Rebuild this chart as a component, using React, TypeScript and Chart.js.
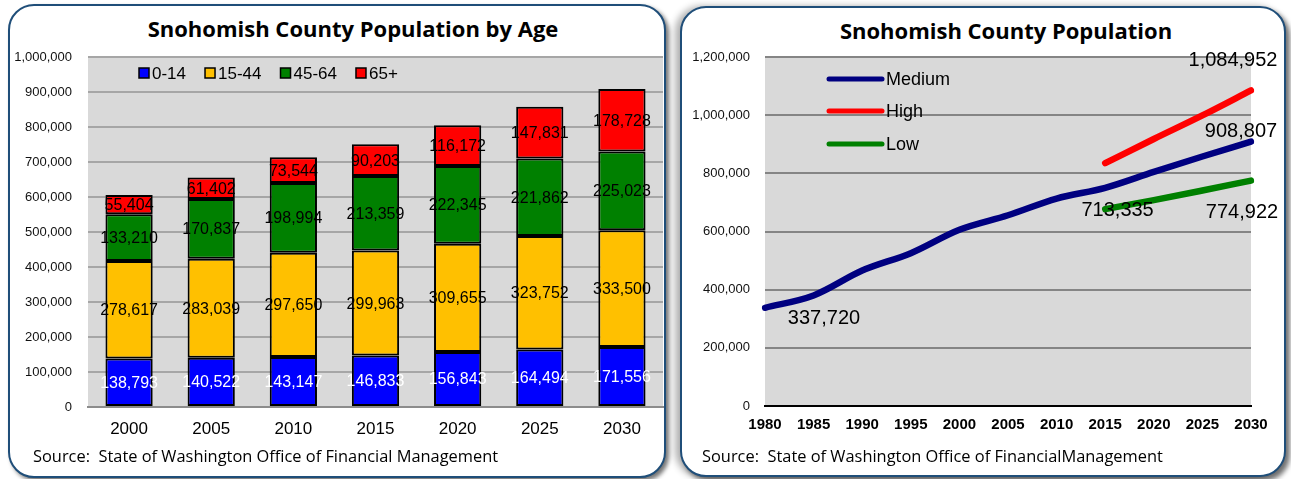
import React, { useEffect, useRef } from "react";
import { Chart, registerables } from "chart.js";

Chart.register(...registerables);

// ---------- Data: population by age ----------
const ageYears = ["2000", "2005", "2010", "2015", "2020", "2025", "2030"];
const ageSeriesNames = ["0-14", "15-44", "45-64", "65+"];
const age0to14 = [138793, 140522, 143147, 146833, 156843, 164494, 171556];
const age15to44 = [278617, 283039, 297650, 299963, 309655, 323752, 333500];
const age45to64 = [133210, 170837, 198994, 213359, 222345, 221862, 225023];
const age65plus = [55404, 61402, 73544, 90203, 116172, 147831, 178728];
const ageTicksMax = 1000000;
const ageTicksStep = 100000;

// ---------- Data: population projections ----------
const popYears = ["1980", "1985", "1990", "1995", "2000", "2005", "2010", "2015", "2020", "2025", "2030"];
const popSeriesNames = ["Medium", "High", "Low"];
const popMedium = [337720, 380000, 465642, 525600, 606024, 655800, 713335, 750358, 805015, 857939, 908807];
const popHigh = [null, null, null, null, null, null, null, 835000, 918000, 999000, 1084952];
const popLow = [null, null, null, null, null, null, null, 677000, 708000, 741000, 774922];
const popTicksMax = 1200000;
const popTicksStep = 200000;

const ARIAL = "'Liberation Sans', Arial, sans-serif";
const CALIBRI = "'Open Sans', Lato, sans-serif";

const fmt = (v: number) => Number(v).toLocaleString("en-US");

const plotBg = (color: string) => ({
  id: "plotBg",
  beforeDraw(chart: any) {
    const { ctx, chartArea } = chart;
    if (!chartArea) return;
    ctx.save();
    ctx.fillStyle = color;
    ctx.fillRect(chartArea.left, chartArea.top, chartArea.right - chartArea.left, chartArea.bottom - chartArea.top);
    ctx.restore();
  },
});

function AgeChart() {
  const ref = useRef<HTMLCanvasElement | null>(null);
  useEffect(() => {
    if (!ref.current) return;
    const colors = ["#0000ff", "#ffc000", "#008000", "#ff0000"];
    const labelColors = ["#ffffff", "#000000", "#000000", "#000000"];
    const series = [age0to14, age15to44, age45to64, age65plus];

    const barLabels = {
      id: "barLabels",
      afterDatasetsDraw(chart: any) {
        const ctx = chart.ctx;
        ctx.save();
        ctx.font = `16px ${ARIAL}`;
        ctx.textAlign = "center";
        ctx.textBaseline = "middle";
        chart.data.datasets.forEach((ds: any, di: number) => {
          const meta = chart.getDatasetMeta(di);
          meta.data.forEach((el: any, i: number) => {
            const p = el.getProps(["x", "y", "base"], true);
            ctx.fillStyle = labelColors[di];
            ctx.fillText(fmt(ds.data[i]), p.x, (p.y + p.base) / 2 + 1);
          });
        });
        ctx.restore();
      },
    };

    const innerLegend = {
      id: "innerLegend",
      afterDraw(chart: any) {
        const { ctx, chartArea } = chart;
        ctx.save();
        ctx.font = `17px ${ARIAL}`;
        ctx.textBaseline = "middle";
        ctx.textAlign = "left";
        let x = chartArea.left + 51;
        const y = chartArea.top + 16;
        chart.data.datasets.forEach((ds: any) => {
          ctx.fillStyle = ds.backgroundColor;
          ctx.fillRect(x, y - 5, 10, 10);
          ctx.strokeStyle = "#000";
          ctx.lineWidth = 1.5;
          ctx.strokeRect(x, y - 5, 10, 10);
          ctx.fillStyle = "#000";
          ctx.fillText(ds.label, x + 13, y + 1);
          x += 13 + ctx.measureText(ds.label).width + 19;
        });
        ctx.restore();
      },
    };

    const chart = new Chart(ref.current, {
      type: "bar",
      data: {
        labels: ageYears,
        datasets: series.map((d, i) => ({
          label: ageSeriesNames[i],
          data: d,
          backgroundColor: colors[i],
          borderColor: "#000000",
          borderWidth: 2,
          borderSkipped: false,
          barPercentage: 1,
          categoryPercentage: 0.575,
        })),
      },
      options: {
        animation: false,
        responsive: true,
        maintainAspectRatio: false,
        layout: { padding: { left: 0, right: 2, top: 17, bottom: 13 } },
        plugins: { legend: { display: false }, tooltip: { enabled: false }, title: { display: false } },
        scales: {
          x: {
            stacked: true,
            offset: true,
            grid: { display: false, drawTicks: false },
            border: { display: true, color: "#8c8c8c", width: 2 },
            ticks: { color: "#000", font: { family: ARIAL, size: 17 }, padding: 12 },
            afterFit: (s: any) => {
              s.height = 40;
            },
          },
          y: {
            stacked: true,
            min: 0,
            max: ageTicksMax,
            grid: { color: "#a6a6a6", lineWidth: 2, drawTicks: false },
            border: { display: false },
            ticks: {
              stepSize: ageTicksStep,
              color: "#111",
              font: { family: ARIAL, size: 13 },
              padding: 16,
              callback: (v: any) => fmt(v),
            },
            afterFit: (s: any) => {
              s.width = 78;
              s.paddingTop = 0;
              s.paddingBottom = 0;
            },
          },
        },
      } as any,
      plugins: [plotBg("#d9d9d9"), barLabels, innerLegend],
    });
    return () => chart.destroy();
  }, []);
  return (
    <div style={{ position: "absolute", left: 10, top: 40, width: 655, height: 420 }}>
      <canvas ref={ref} />
    </div>
  );
}

function PopChart() {
  const ref = useRef<HTMLCanvasElement | null>(null);
  useEffect(() => {
    if (!ref.current) return;
    const colors = ["#000080", "#ff0000", "#008000"];
    const series: any[] = [popMedium, popHigh, popLow];
    const pointLabels = [
      { ds: 0, i: 0, dx: 59, dy: 11 },
      { ds: 0, i: 6, dx: 61, dy: 12 },
      { ds: 1, i: 10, dx: -18, dy: -30 },
      { ds: 0, i: 10, dx: -10, dy: -10 },
      { ds: 2, i: 10, dx: -9, dy: 32 },
    ];

    const lineLabels = {
      id: "lineLabels",
      afterDatasetsDraw(chart: any) {
        const ctx = chart.ctx;
        ctx.save();
        ctx.font = `20px ${ARIAL}`;
        ctx.fillStyle = "#000";
        ctx.textAlign = "center";
        ctx.textBaseline = "middle";
        pointLabels.forEach((l) => {
          const el = chart.getDatasetMeta(l.ds).data[l.i];
          const v = chart.data.datasets[l.ds].data[l.i];
          ctx.fillText(fmt(v), el.x + l.dx, el.y + l.dy);
        });
        ctx.restore();
      },
    };

    const innerLegend = {
      id: "innerLegend",
      afterDraw(chart: any) {
        const { ctx, chartArea } = chart;
        ctx.save();
        ctx.font = `18px ${ARIAL}`;
        ctx.textBaseline = "middle";
        ctx.textAlign = "left";
        const x = chartArea.left + 62;
        const ys = [22, 54, 87];
        chart.data.datasets.forEach((ds: any, i: number) => {
          const y = chartArea.top + ys[i];
          ctx.strokeStyle = ds.borderColor;
          ctx.lineWidth = 5;
          ctx.lineCap = "round";
          ctx.beginPath();
          ctx.moveTo(x + 2, y);
          ctx.lineTo(x + 55, y);
          ctx.stroke();
          ctx.fillStyle = "#000";
          ctx.fillText(ds.label, x + 59, y + 1);
        });
        ctx.restore();
      },
    };

    const chart = new Chart(ref.current, {
      type: "line",
      data: {
        labels: popYears,
        datasets: series.map((d, i) => ({
          label: popSeriesNames[i],
          data: d,
          borderColor: colors[i],
          backgroundColor: colors[i],
          borderWidth: 6.5,
          borderCapStyle: "round",
          borderJoinStyle: "round",
          pointRadius: 0,
          fill: false,
          cubicInterpolationMode: "monotone",
          spanGaps: false,
        })),
      },
      options: {
        animation: false,
        responsive: true,
        maintainAspectRatio: false,
        layout: { padding: { left: 0, right: 33, top: 17, bottom: 16 } },
        plugins: { legend: { display: false }, tooltip: { enabled: false }, title: { display: false } },
        scales: {
          x: {
            offset: false,
            grid: { display: false, drawTicks: false },
            border: { display: true, color: "#000", width: 2 },
            ticks: { color: "#000", font: { family: ARIAL, size: 15, weight: "bold" }, padding: 10, maxRotation: 0, autoSkip: false },
            afterFit: (s: any) => {
              s.height = 38;
            },
          },
          y: {
            min: 0,
            max: popTicksMax,
            grid: { color: "#858585", lineWidth: 2, drawTicks: false },
            border: { display: false },
            ticks: {
              stepSize: popTicksStep,
              color: "#111",
              font: { family: ARIAL, size: 13 },
              padding: 15,
              callback: (v: any) => fmt(v),
            },
            afterFit: (s: any) => {
              s.width = 83;
              s.paddingTop = 0;
              s.paddingBottom = 0;
            },
          },
        },
      } as any,
      plugins: [plotBg("#d9d9d9"), lineLabels, innerLegend],
    });
    return () => chart.destroy();
  }, []);
  return (
    <div style={{ position: "absolute", left: 682, top: 40, width: 602, height: 420 }}>
      <canvas ref={ref} />
    </div>
  );
}

export default function App() {
  const panel: React.CSSProperties = {
    position: "absolute",
    boxSizing: "border-box",
    border: "2px solid #1f4e79",
    borderRadius: 26,
    background: "#ffffff",
  };
  const titleStyle: React.CSSProperties = {
    position: "absolute",
    fontFamily: CALIBRI,
    fontWeight: 700,
    fontSize: 22,
    lineHeight: "26px",
    color: "#000",
    textAlign: "center",
    whiteSpace: "nowrap",
  };
  const sourceStyle: React.CSSProperties = {
    position: "absolute",
    fontFamily: CALIBRI,
    fontSize: 16.4,
    lineHeight: "18px",
    color: "#000",
    whiteSpace: "pre",
  };
  return (
    <div style={{ position: "absolute", left: 0, top: 0, width: 1291, height: 479, overflow: "hidden", background: "#fff" }}>
      <div style={{ ...panel, left: 8, top: 4, width: 658, height: 474, boxShadow: "3px 3px 4px rgba(0,0,0,0.55)" }} />
      <div
        style={{
          ...panel,
          left: 680,
          top: 6,
          width: 606,
          height: 471,
          boxShadow: "-5px 0 7px rgba(0,0,0,0.3), 4px 4px 5px rgba(0,0,0,0.55)",
        }}
      />
      <div style={{ ...titleStyle, left: 103, top: 15, width: 500 }}>Snohomish County Population by Age</div>
      <div style={{ ...titleStyle, left: 756, top: 17, width: 500 }}>Snohomish County Population</div>
      <AgeChart />
      <PopChart />
      <div style={{ ...sourceStyle, left: 33, top: 447 }}>{"Source:  State of Washington Office of Financial Management"}</div>
      <div style={{ ...sourceStyle, left: 702, top: 447 }}>{"Source:  State of Washington Office of FinancialManagement"}</div>
    </div>
  );
}
